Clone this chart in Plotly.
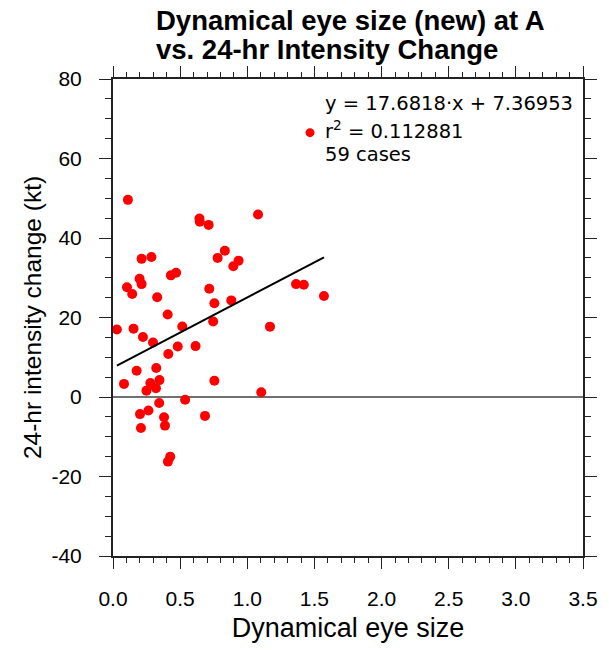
import plotly.graph_objects as go

# Data
eye_size = [0.111, 0.644, 0.646, 0.712, 1.080, 0.833, 0.779, 0.935, 0.896, 0.213,
            0.286, 0.470, 0.431, 0.198, 0.213, 0.104, 0.143, 0.717, 0.329, 0.755,
            0.881, 0.407, 0.029, 0.153, 0.223, 0.298, 0.516, 0.482, 0.412, 0.615,
            0.746, 1.169, 0.176, 0.322, 0.082, 0.278, 0.346, 0.320, 0.249, 0.755,
            1.104, 0.537, 0.344, 0.201, 0.264, 0.380, 0.387, 0.208, 0.685, 0.426,
            0.409, 1.363, 1.421, 1.571]
intensity_change = [49.6, 44.9, 44.1, 43.3, 45.9, 36.8, 35.0, 34.3, 32.9, 34.75,
                    35.2, 31.25, 30.6, 29.75, 28.4, 27.6, 25.9, 27.25, 25.1, 23.6,
                    24.3, 20.75, 17.0, 17.2, 15.1, 13.7, 17.75, 12.7, 10.8, 12.8,
                    19.0, 17.7, 6.6, 7.3, 3.3, 3.5, 4.25, 2.2, 1.6, 4.1,
                    1.2, -0.7, -1.5, -4.3, -3.4, -5.1, -7.2, -7.8, -4.75, -15.0,
                    -16.25, 28.4, 28.25, 25.4]
slope = 17.6818
intercept = 7.36953
r2 = 0.112881
n_cases = 59

x_tick_vals = [0.0, 0.5, 1.0, 1.5, 2.0, 2.5, 3.0, 3.5]
x_tick_text = ["0.0", "0.5", "1.0", "1.5", "2.0", "2.5", "3.0", "3.5"]
y_tick_vals = [-40, -20, 0, 20, 40, 60, 80]
y_tick_text = ["-40", "-20", "0", "20", "40", "60", "80"]

title_line1 = "Dynamical eye size (new) at A"
title_line2 = "vs. 24-hr Intensity Change"

line_x = [min(eye_size), max(eye_size)]
line_y = [slope * v + intercept for v in line_x]

fig = go.Figure()
fig.add_trace(go.Scatter(x=eye_size, y=intensity_change, mode="markers",
                         marker=dict(color="#ff0000", size=10, line=dict(width=0)),
                         showlegend=False))
fig.add_trace(go.Scatter(x=line_x, y=line_y, mode="lines",
                         line=dict(color="black", width=2), showlegend=False))
# legend marker dot
fig.add_trace(go.Scatter(x=[1.467], y=[66.5], mode="markers",
                         marker=dict(color="#ff0000", size=9), showlegend=False))

font_main = "Liberation Sans, Arial, sans-serif"
font_leg = "DejaVu Sans, sans-serif"

fig.update_layout(
    width=609, height=650,
    margin=dict(l=113, r=14, t=79, b=92),
    paper_bgcolor="white", plot_bgcolor="white",
    font=dict(family=font_main, color="black"),
    xaxis=dict(range=[0, 3.5], tickvals=x_tick_vals, ticktext=x_tick_text,
               ticks="outside", ticklen=11, tickwidth=1.2, tickcolor="#222",
               showline=True, linecolor="#222", linewidth=2, mirror="ticks",
               showgrid=False, zeroline=False, ticklabelstandoff=12,
               minor=dict(dtick=0.1, tick0=0, ticks="outside", ticklen=5, tickcolor="#222", tickwidth=1),
               tickfont=dict(size=21),
               title=dict(text="Dynamical eye size", font=dict(size=27), standoff=9)),
    yaxis=dict(range=[-40, 80], tickvals=y_tick_vals, ticktext=y_tick_text,
               ticks="outside", ticklen=12, tickwidth=1.2, tickcolor="#222",
               showline=True, linecolor="#222", linewidth=2, mirror="ticks",
               showgrid=False, zeroline=True, zerolinecolor="#707070", zerolinewidth=2,
               ticklabelstandoff=13,
               minor=dict(dtick=5, tick0=0, ticks="outside", ticklen=6, tickcolor="#222", tickwidth=1),
               tickfont=dict(size=21),
               title=dict(text="24-hr intensity change (kt)", font=dict(size=24.5), standoff=3)),
)

# two-line bold title
fig.add_annotation(xref="paper", yref="paper", x=(155 - 113) / 482, y=(558 - 20) / 479,
                   xanchor="left", yanchor="middle", showarrow=False,
                   text="<b>%s</b>" % title_line1, font=dict(size=27.5, family=font_main))
fig.add_annotation(xref="paper", yref="paper", x=(155 - 113) / 482, y=(558 - 49) / 479,
                   xanchor="left", yanchor="middle", showarrow=False,
                   text="<b>%s</b>" % title_line2, font=dict(size=27.5, family=font_main))

leg_x = (328 - 113) / 482
fig.add_annotation(xref="paper", yref="paper", x=leg_x, y=(558 - 104) / 479,
                   xanchor="left", yanchor="middle", showarrow=False, align="left",
                   text="y = %.4f\u00b7x + %.5f" % (slope, intercept),
                   font=dict(size=19.5, family=font_leg))
fig.add_annotation(xref="paper", yref="paper", x=leg_x, y=(558 - 130) / 479,
                   xanchor="left", yanchor="middle", showarrow=False, align="left",
                   text="r<sup>2</sup> = %.6f" % r2,
                   font=dict(size=19.5, family=font_leg))
fig.add_annotation(xref="paper", yref="paper", x=leg_x, y=(558 - 155) / 479,
                   xanchor="left", yanchor="middle", showarrow=False, align="left",
                   text="%d cases" % n_cases,
                   font=dict(size=19.5, family=font_leg))

fig.write_html("out.html")
